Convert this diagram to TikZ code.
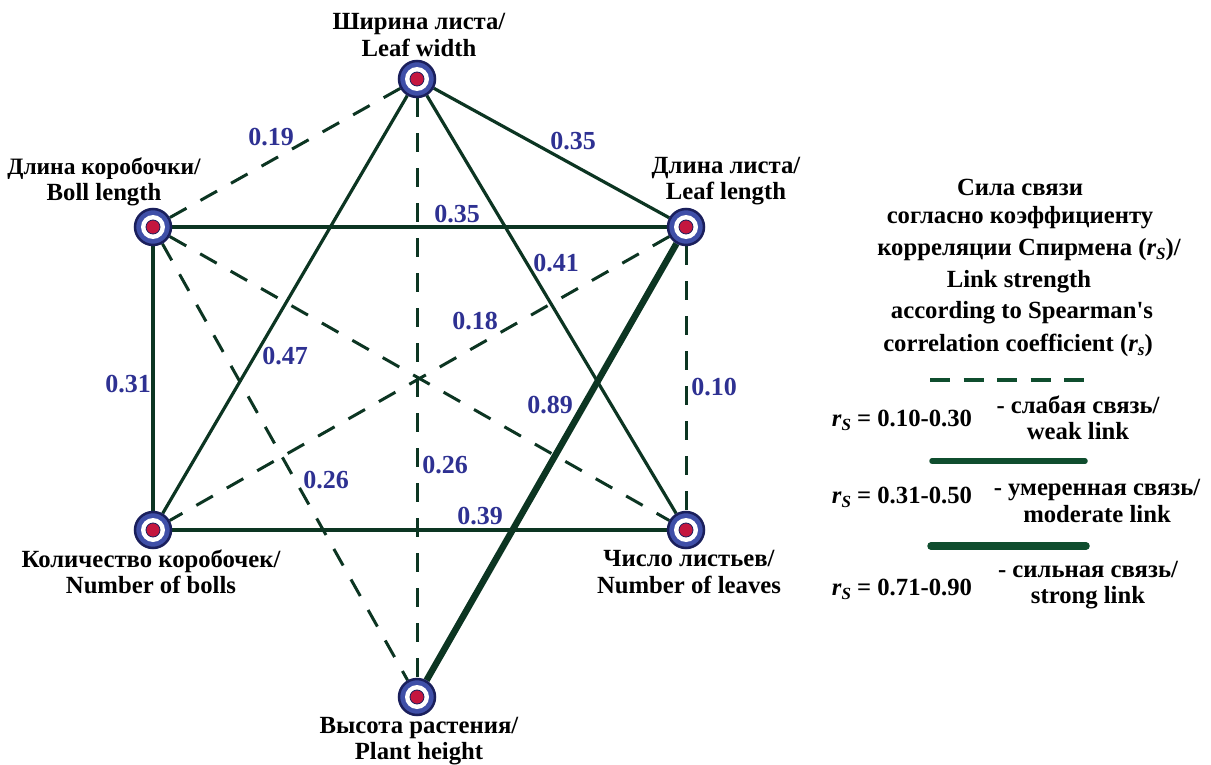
\documentclass[tikz,border=0pt]{standalone}
\usepackage{fontspec}
\setmainfont{Liberation Serif}[Ligatures=TeXOff]
\usetikzlibrary{backgrounds}
\definecolor{linkgreen}{HTML}{0C3522}
\definecolor{legendgreen}{HTML}{0F4D2E}
\definecolor{hubblue}{HTML}{3F4FA8}
\definecolor{hubnavy}{HTML}{1A1F5C}
\definecolor{hubred}{HTML}{C4163F}
\definecolor{valblue}{HTML}{2E3192}
\newcommand{\rsub}[1]{{\itshape r\raisebox{-0.35ex}{\fontsize{17}{17}\selectfont #1}}}
\tikzset{
  x=1pt,y=-1pt,
  hub/.style={circle,draw=hubnavy,line width=2.5pt,fill=hubblue,minimum size=36pt,inner sep=0pt,
    path picture={
      \fill[white] (path picture bounding box.center) circle (12pt);
      \fill[hubred,draw=hubnavy,line width=0.8pt] (path picture bounding box.center) circle (7pt);
    }},
  lab/.style={font=\fontsize{24.7}{26.5}\selectfont\bfseries,align=center,inner sep=0pt,text=black},
  val/.style={font=\fontsize{26}{26}\selectfont\bfseries,inner sep=0pt,text=valblue},
  weak/.style={draw=linkgreen,line width=3pt,dash pattern=on 19pt off 16pt},
  moderate/.style={draw=linkgreen,line width=3.2pt},
  strong/.style={draw=linkgreen,line width=6.5pt},
}
\begin{document}
\begin{tikzpicture}
\useasboundingbox (0,0) rectangle (1211,765);
\node[hub] (top) at (417,79) {};
\node[hub] (boll) at (153,227) {};
\node[hub] (ll) at (686,227) {};
\node[hub] (nb) at (153,530) {};
\node[hub] (nl) at (686,530) {};
\node[hub] (ph) at (417,697) {};
\begin{scope}[on background layer]
\draw[weak] (top) -- (boll);
\draw[moderate] (top) -- (nb);
\draw[weak] (top) -- (ph);
\draw[moderate] (top) -- (nl);
\draw[moderate] (top) -- (ll);
\draw[moderate] (boll) -- (ll);
\draw[moderate] (boll) -- (nb);
\draw[weak] (boll) -- (nl);
\draw[weak] (boll) -- (ph);
\draw[weak] (ll) -- (nb);
\draw[weak] (ll) -- (nl);
\draw[strong] (ll) -- (ph);
\draw[moderate] (nb) -- (nl);
\end{scope}
\node[lab] (ltop) at (419,35) {Ширина листа/\\Leaf width};
\node[lab,font=\fontsize{23.5}{26.5}\selectfont\bfseries] (lboll) at (104,182) {Длина коробочки/\\{\fontsize{24.7}{26.5}\selectfont Boll length}};
\node[lab] (lll) at (726,181) {Длина листа/\\Leaf length};
\node[lab] (lnb) at (151,572) {Количество коробочек/\\Number of bolls};
\node[lab] (lnl) at (689,572) {Число листьев/\\Number of leaves};
\node[lab] (lph) at (419,741) {Высота растения/\\Plant height};
\node[val] (v1) at (271,137) {0.19};
\node[val] (v2) at (573,141) {0.35};
\node[val] (v3) at (457,214) {0.35};
\node[val] (v4) at (556,263) {0.41};
\node[val] (v5) at (475,321) {0.18};
\node[val] (v6) at (285,356) {0.47};
\node[val] (v7) at (128,384) {0.31};
\node[val] (v8) at (714,387) {0.10};
\node[val] (v9) at (550,405) {0.89};
\node[val] (v10) at (326,480) {0.26};
\node[val] (v11) at (445,465) {0.26};
\node[val] (v12) at (480,516) {0.39};
\node[lab] (h1) at (1020,187) {Сила связи};
\node[lab] (h2) at (1020,218) {согласно коэффициенту};
\node[lab] (h3) at (1029,250) {корреляции Спирмена (\rsub{S})/};
\node[lab] (h4) at (1019,282) {Link strength};
\node[lab] (h5) at (1022,313) {according to Spearman's};
\node[lab] (h6) at (1018,345) {correlation coefficient (\rsub{s})};
\coordinate (a1) at (930,380);
\coordinate (a2) at (1085,380);
\draw[draw=legendgreen,line width=3.6pt,dash pattern=on 20pt off 13.5pt] (a1) -- (a2);
\node[lab] (t1) at (902,420) {\rsub{S} = 0.10-0.30};
\node[lab] (d1) at (1078,418) {- слабая связь/\\weak link};
\coordinate (b1) at (932,461);
\coordinate (b2) at (1085,461);
\draw[draw=legendgreen,line width=5.5pt,line cap=round] (b1) -- (b2);
\node[lab] (t2) at (902,497) {\rsub{S} = 0.31-0.50};
\node[lab] (d2) at (1097,501) {- умеренная связь/\\moderate link};
\coordinate (c1) at (931,546);
\coordinate (c2) at (1086,546);
\draw[draw=legendgreen,line width=7.5pt,line cap=round] (c1) -- (c2);
\node[lab] (t3) at (902,589) {\rsub{S} = 0.71-0.90};
\node[lab] (d3) at (1088,585) {- сильная связь/\\strong link};
\end{tikzpicture}
\end{document}
